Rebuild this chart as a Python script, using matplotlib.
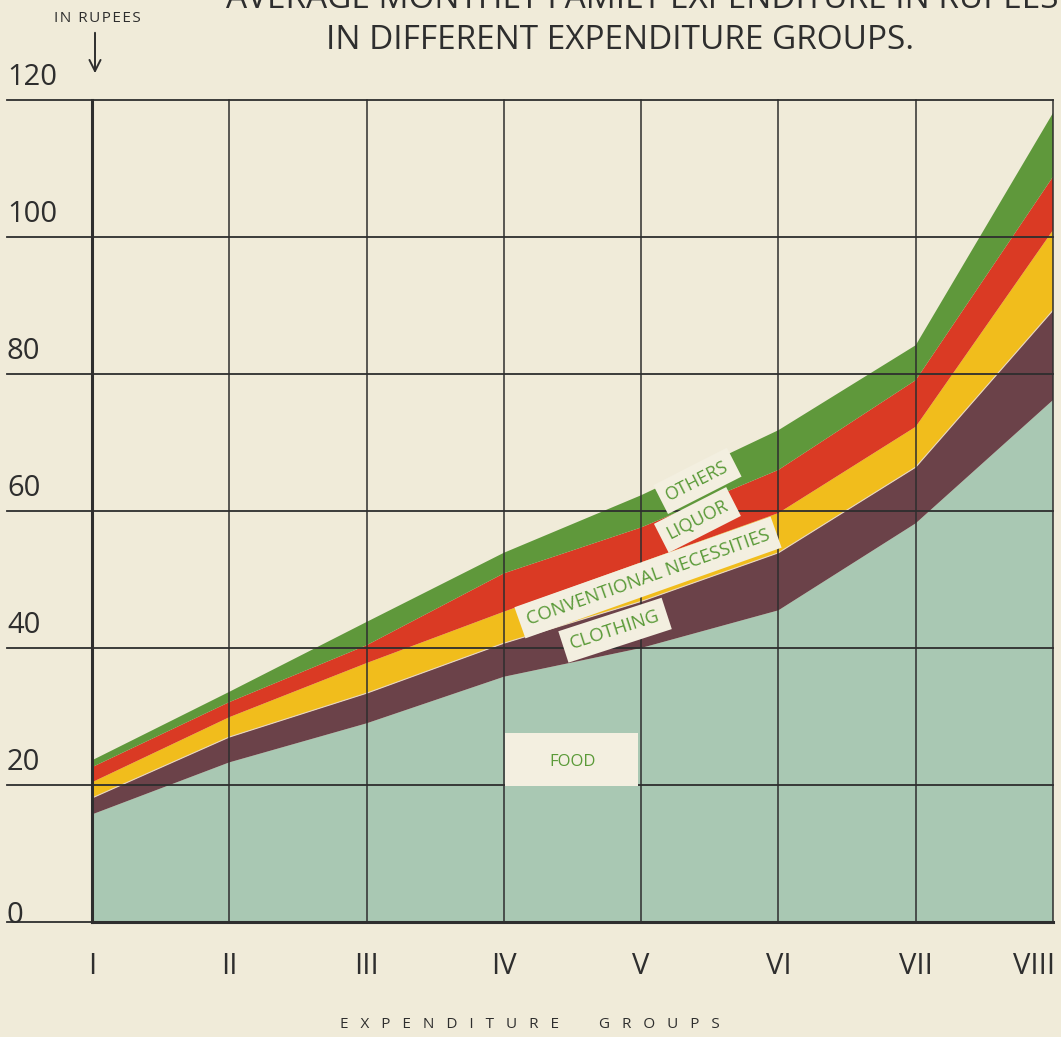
import numpy as np
import matplotlib
matplotlib.use('Agg')
from matplotlib import pyplot as plt
from matplotlib import font_manager
from matplotlib.patches import Rectangle, FancyArrowPatch

# cumulative tops of each band (rupees)
grupos = ['I', 'II', 'III', 'IV', 'V', 'VI', 'VII', 'VIII']
food = [15.7, 23.3, 29.0, 35.8, 40.0, 45.5, 58.2, 76.2]
clothingTop = [18.1, 27.0, 33.4, 40.7, 46.8, 53.9, 66.4, 89.3]
conventionalTop = [20.4, 29.9, 37.8, 45.3, 52.5, 59.7, 72.3, 101.0]
liquorTop = [22.6, 32.1, 40.4, 50.9, 57.6, 66.0, 79.1, 108.8]
othersTop = [23.6, 33.6, 43.8, 53.9, 62.3, 71.8, 84.2, 118.1]
yTicks = [0, 20, 40, 60, 80, 100, 120]

camadas = [food,
           np.subtract(clothingTop, food),
           np.subtract(conventionalTop, clothingTop),
           np.subtract(liquorTop, conventionalTop),
           np.subtract(othersTop, liquorTop)]
cores = ['#a9c8b3', '#6b4249', '#f1bd1c', '#da3a24', '#5f983b']
papel = '#f0ebd9'
tinta = '#2e2e2e'
verde = '#5a9a38'

disponiveis = {f.name for f in font_manager.fontManager.ttflist}
fonte = next((f for f in ['Liberation Sans Narrow', 'DejaVu Sans Condensed', 'Open Sans', 'Lato']
              if f in disponiveis), 'DejaVu Sans')
plt.rcParams['font.family'] = [fonte, 'DejaVu Sans']

fig = plt.figure(figsize=(10.61, 10.37), dpi=100, facecolor=papel)
ax = fig.add_axes([92/1061, 1 - 922/1037, (1053 - 92)/1061, (922 - 100)/1037])
ax.set_facecolor(papel)
x = np.arange(len(grupos))
ax.stackplot(x, *camadas, colors=cores, linewidth=0, zorder=1)
ax.plot(x, clothingTop, color='#e8d6c0', lw=0.8, zorder=1.5)
ax.set_xlim(0, 7)
ax.set_ylim(0, 120)
ax.axis('off')

# grid: horizontal lines run past the left edge
for v in yTicks:
    ax.plot([-0.62, 7], [v, v], color=tinta, lw=1.3, clip_on=False, zorder=2)
    ax.text(-0.62, v + (1.2 if v > 0 else 1.0), str(v), fontsize=21, color=tinta,
            ha='left', va='bottom' if v > 0 else 'center', clip_on=False)
for i in x:
    ax.plot([i, i], [0, 120], color=tinta, lw=2.2 if i == 0 else 1.1, clip_on=False, zorder=2)
    ax.text(i if i < 7 else 6.86, -6.5, grupos[i], fontsize=21, color=tinta,
            ha='center', va='center', clip_on=False)
ax.plot([0, 7], [0, 0], color=tinta, lw=2.2, zorder=2, clip_on=False)

caixa = dict(boxstyle='square,pad=0.4', fc='#f3efe0', ec='none')
ax.text(4.41, 64.4, 'OTHERS', rotation=27, fontsize=13, color=verde,
        ha='center', va='center', bbox=caixa, zorder=3)
ax.text(4.41, 58.7, 'LIQUOR', rotation=27, fontsize=13, color=verde,
        ha='center', va='center', bbox=caixa, zorder=3)
ax.text(4.05, 50.3, 'CONVENTIONAL NECESSITIES', rotation=19.5, fontsize=13.5, color=verde,
        ha='center', va='center', bbox=caixa, zorder=3)
ax.text(3.81, 42.6, 'CLOTHING', rotation=18, fontsize=13.5, color=verde,
        ha='center', va='center', bbox=caixa, zorder=3)
ax.add_patch(Rectangle((3.01, 19.8), 0.97, 7.8, fc='#f3efe0', ec='none', zorder=3))
ax.text(3.5, 23.4, 'FOOD', fontsize=12, color=verde, ha='center', va='center', zorder=4)

# titles and axis notes (first title line is trimmed by the top edge, as on the sheet)
fig.text(1058/1061, 1 - 8/1037, 'AVERAGE MONTHLY FAMILY EXPENDITURE IN RUPEES',
         fontsize=24, color=tinta, ha='right', va='baseline')
fig.text(620/1061, 1 - 40/1037, 'IN DIFFERENT EXPENDITURE GROUPS.',
         fontsize=24, color=tinta, ha='center', va='center')
fig.text(97/1061, 1 - 18/1037, '\u200a'.join('IN RUPEES'), fontsize=11, color=tinta,
         ha='center', va='center')
fig.add_artist(FancyArrowPatch((95/1061, 1 - 30/1037), (95/1061, 1 - 76/1037),
               transform=fig.transFigure, arrowstyle='->,head_width=4,head_length=8',
               color=tinta, lw=1.4))
fig.text(530/1061, 1 - 1025/1037, '   '.join('EXPENDITURE') + '          ' + '   '.join('GROUPS'),
         fontsize=11, color=tinta, ha='center', va='center')

fig.savefig('out.png', dpi=100, facecolor=papel)
